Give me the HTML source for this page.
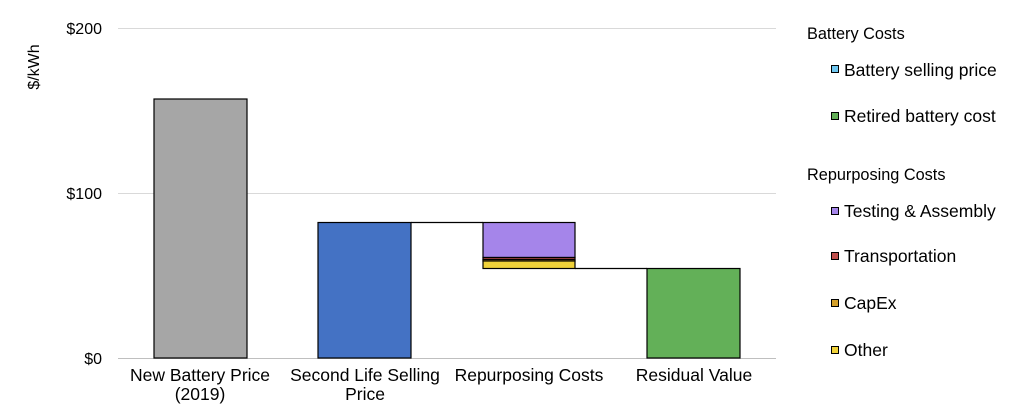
<!DOCTYPE html>
<html><head><meta charset="utf-8"><style>body{margin:0;background:#fff}svg{display:block}text{font-family:"Liberation Sans",Arial,sans-serif;fill:#000}</style></head>
<body>
<svg width="1024" height="412" viewBox="0 0 1024 412">
<g stroke="#d9d9d9" stroke-width="1">
<line x1="118" y1="28.5" x2="776" y2="28.5"/>
<line x1="118" y1="193.5" x2="776" y2="193.5"/>
</g>
<line x1="118" y1="358.5" x2="776" y2="358.5" stroke="#bfbfbf"/>
<g font-size="16" text-anchor="end">
<text x="102" y="34">$200</text>
<text x="102" y="199">$100</text>
<text x="102" y="364">$0</text>
</g>
<text transform="translate(39,67) rotate(-90)" font-size="16" text-anchor="middle">$/kWh</text>
<g stroke="#000" stroke-width="1.2">
<rect x="154" y="99" width="93" height="259" fill="#a6a6a6"/>
<rect x="318" y="222.5" width="93" height="135.5" fill="#4472c4"/>
<rect x="483" y="222.5" width="92" height="35" fill="#a585ea"/>
<rect x="483" y="257.5" width="92" height="2" fill="#c0504d"/>
<rect x="483" y="259.5" width="92" height="1.5" fill="#d4a02a"/>
<rect x="483" y="261" width="92" height="7.5" fill="#f0d23a"/>
<rect x="647" y="268.5" width="93" height="89.5" fill="#63b058"/>
<line x1="411" y1="222.5" x2="483" y2="222.5"/>
<line x1="575" y1="268.5" x2="647" y2="268.5"/>
</g>
<g font-size="17.5" text-anchor="middle">
<text x="200" y="381">New Battery Price</text>
<text x="200" y="400">(2019)</text>
<text x="365" y="381">Second Life Selling</text>
<text x="365" y="400">Price</text>
<text x="529" y="381">Repurposing Costs</text>
<text x="694" y="381">Residual Value</text>
</g>
<g font-size="16.3">
<text x="807" y="39">Battery Costs</text>
<text x="807" y="180">Repurposing Costs</text>
</g>
<g stroke="#000" stroke-width="1">
<rect x="831.5" y="65.5" width="7" height="7" fill="#6fc7f0"/>
<rect x="831.5" y="112.5" width="7" height="7" fill="#63b058"/>
<rect x="831.5" y="207.5" width="7" height="7" fill="#a585ea"/>
<rect x="831.5" y="252.5" width="7" height="7" fill="#c0504d"/>
<rect x="831.5" y="299.5" width="7" height="7" fill="#d4a02a"/>
<rect x="831.5" y="346.5" width="7" height="7" fill="#f0d23a"/>
</g>
<g font-size="17.5">
<text x="844" y="76">Battery selling price</text>
<text x="844" y="122">Retired battery cost</text>
<text x="844" y="217">Testing &amp; Assembly</text>
<text x="844" y="262">Transportation</text>
<text x="844" y="309">CapEx</text>
<text x="844" y="356">Other</text>
</g>
</svg>
</body></html>
